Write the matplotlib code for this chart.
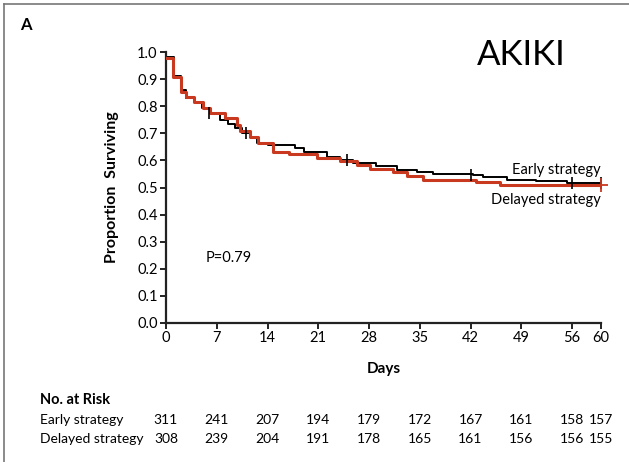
import matplotlib
matplotlib.use("Agg")
import matplotlib.pyplot as plt
from matplotlib.lines import Line2D
import matplotlib.transforms as mtransforms

plt.rcParams['font.family'] = ['Lato', 'DejaVu Sans']

# ---- data ----
early_t = [0, 1.1, 2.0, 2.8, 3.8, 5.0, 6.0, 7.5, 8.5, 9.5, 10.5, 11.6, 12.6, 14.0,
           17.8, 19.0, 22.2, 24.0, 25.8, 29.0, 31.8, 34.6, 36.8, 42.4, 43.7, 47.0,
           51.1, 55.3, 60]
early_s = [0.98, 0.91, 0.86, 0.83, 0.815, 0.795, 0.775, 0.75, 0.735, 0.72, 0.70,
           0.685, 0.665, 0.655, 0.645, 0.632, 0.614, 0.60, 0.59, 0.578, 0.566,
           0.557, 0.55, 0.546, 0.538, 0.529, 0.524, 0.517, 0.517]
delayed_t = [0, 1.0, 2.0, 2.8, 3.8, 5.1, 6.1, 8.1, 9.8, 10.2, 11.6, 12.7, 14.8,
             17.0, 20.8, 24.0, 26.3, 28.1, 31.3, 33.2, 35.5, 42.8, 46.0, 60]
delayed_s = [0.978, 0.907, 0.854, 0.835, 0.817, 0.794, 0.774, 0.755, 0.731, 0.709,
             0.687, 0.663, 0.632, 0.624, 0.608, 0.596, 0.584, 0.568, 0.556, 0.541,
             0.528, 0.52, 0.51, 0.51]
early_cens_t = [5.9, 11.0, 24.9, 42.0, 56.0, 60.0]
early_cens_s = [0.775, 0.70, 0.60, 0.546, 0.517, 0.517]
delayed_cens_t = [60.0]
delayed_cens_s = [0.51]

risk_days = [0, 7, 14, 21, 28, 35, 42, 49, 56, 60]
risk_early = [311, 241, 207, 194, 179, 172, 167, 161, 158, 157]
risk_delayed = [308, 239, 204, 191, 178, 165, 161, 156, 156, 155]
xticks = [0, 7, 14, 21, 28, 35, 42, 49, 56, 60]
yticks = [0.0, 0.1, 0.2, 0.3, 0.4, 0.5, 0.6, 0.7, 0.8, 0.9, 1.0]

RED = '#c9391f'
W, H = 629, 462
fig = plt.figure(figsize=(W / 100, H / 100), dpi=100)
ax = fig.add_axes([166 / W, 1 - 323 / H, (601 - 166) / W, (323 - 52) / H])

ax.step(early_t, early_s, where='post', color='black', lw=1.4, zorder=2)
ax.step(delayed_t, delayed_s, where='post', color=RED, lw=2.2, zorder=3)
ax.plot(early_cens_t, early_cens_s, ls='none', marker='|', ms=9, mew=1.2,
        color='black', zorder=4, clip_on=False)
ax.plot(delayed_cens_t, delayed_cens_s, ls='none', marker='+', ms=10, mew=1.3,
        color=RED, zorder=4, clip_on=False)

ax.set_xlim(0, 60)
ax.set_ylim(0, 1.0)
ax.set_xticks(xticks)
ax.set_xticklabels([str(v) for v in xticks])
ax.set_yticks(yticks)
ax.set_yticklabels([f"{v:.1f}" for v in yticks])
for s in ['top', 'right']:
    ax.spines[s].set_visible(False)
for s in ['left', 'bottom']:
    ax.spines[s].set_linewidth(1.6)
    ax.spines[s].set_color('#222222')
ax.tick_params(direction='out', length=4, width=1.4, labelsize=10.5, pad=2,
               color='#222222')

ax.set_ylabel('Proportion  Surviving', fontsize=11.5, fontweight='bold', labelpad=13)
ax.set_xlabel('Days', fontsize=11, fontweight='bold', labelpad=12)

ax.text(5.4, 0.24, 'P=0.79', fontsize=10.5, va='center', ha='left')
ax.text(60, 0.565, 'Early strategy', fontsize=10.5, ha='right', va='center')
ax.text(60, 0.455, 'Delayed strategy', fontsize=10.5, ha='right', va='center')

# Title-like labels
fig.text(20 / W, 1 - 25 / H, 'A', fontsize=12, fontweight='bold', va='center', ha='left')
fig.text(521 / W, 1 - 55 / H, 'AKIKI', fontsize=25, va='center', ha='center')

# Risk table
trans = mtransforms.blended_transform_factory(ax.transData, fig.transFigure)
fig.text(40 / W, 1 - 400 / H, 'No. at Risk', fontsize=10.5, fontweight='bold',
         va='center', ha='left')
fig.text(40 / W, 1 - 420 / H, 'Early strategy', fontsize=10, va='center', ha='left')
fig.text(40 / W, 1 - 439 / H, 'Delayed strategy', fontsize=10, va='center', ha='left')
for d, e, dl in zip(risk_days, risk_early, risk_delayed):
    ax.text(d, 1 - 420 / H, str(e), transform=trans, fontsize=10, ha='center',
            va='center', clip_on=False)
    ax.text(d, 1 - 439 / H, str(dl), transform=trans, fontsize=10, ha='center',
            va='center', clip_on=False)

# Frame border
fig.add_artist(Line2D([4 / W, 1.0], [1 - 4 / H, 1 - 4 / H], color='#777777', lw=1.2,
                      transform=fig.transFigure))
fig.add_artist(Line2D([4 / W, 4 / W], [0, 1 - 4 / H], color='#777777', lw=1.2,
                      transform=fig.transFigure))

fig.savefig('out.png', dpi=100)
